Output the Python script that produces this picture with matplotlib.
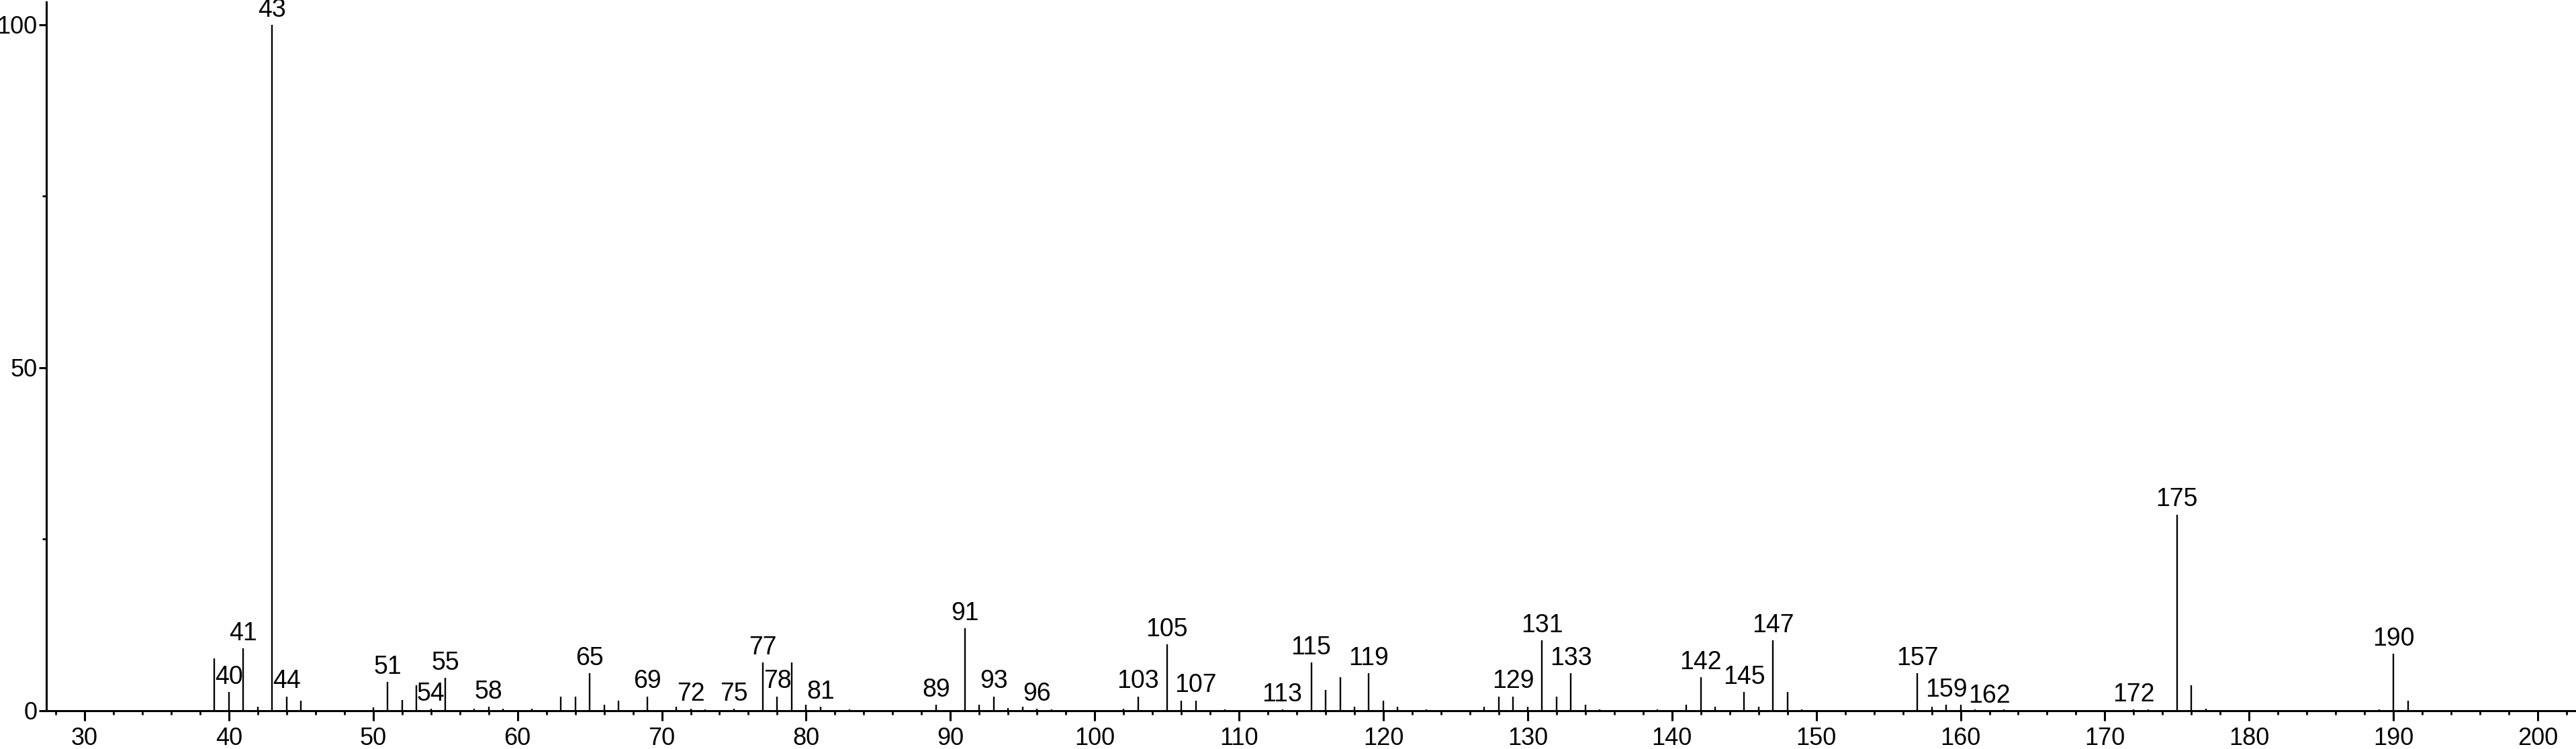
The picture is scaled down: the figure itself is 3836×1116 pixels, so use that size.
import matplotlib
matplotlib.use("Agg")
import matplotlib.pyplot as plt
from matplotlib.ticker import MultipleLocator

plt.rcParams['font.family'] = ['Liberation Sans', 'DejaVu Sans']

# m/z values and relative intensities
mz = [39, 40, 41, 42, 43, 44, 45, 50, 51, 52, 53, 54, 55, 57, 58, 59, 61,
      63, 64, 65, 66, 67, 69, 71, 72, 73, 75, 77, 78, 79, 80, 81, 83,
      89, 91, 92, 93, 94, 95, 96, 97, 102, 103, 105, 106, 107, 109, 113,
      115, 116, 117, 118, 119, 120, 121, 123, 127, 128, 129, 130, 131, 132,
      133, 134, 135, 139, 141, 142, 143, 145, 146, 147, 148, 149,
      157, 158, 159, 160, 161, 163, 172, 173, 175, 176, 177, 189, 190, 191]
intensity = [7.6, 2.7, 9.1, 0.6, 100, 2.1, 1.5, 0.5, 4.2, 1.6, 3.7, 0.3, 4.8, 0.3, 0.6, 0.3, 0.3,
             2.1, 2.1, 5.5, 0.9, 1.5, 2.1, 0.6, 0.3, 0.2, 0.3, 7.0, 2.1, 7.0, 0.9, 0.6, 0.2,
             0.9, 12.0, 0.9, 2.1, 0.4, 0.6, 0.3, 0.2, 0.3, 2.1, 9.7, 1.5, 1.5, 0.2, 0.2,
             7.0, 3.0, 4.9, 0.6, 5.5, 1.5, 0.6, 0.2, 0.6, 2.1, 2.1, 0.6, 10.3, 2.1,
             5.5, 0.9, 0.2, 0.2, 0.9, 4.9, 0.6, 2.7, 0.6, 10.3, 2.7, 0.2,
             5.5, 0.6, 0.9, 0.9, 0.2, 0.2, 0.2, 0.2, 28.6, 3.7, 0.3, 0.2, 8.3, 1.5]

# peaks that carry an m/z label
labelled = [40, 41, 43, 44, 51, 54, 55, 58, 65, 69, 72, 75, 77, 78, 81, 89, 91,
            93, 96, 103, 105, 107, 113, 115, 119, 129, 131, 133, 142, 145, 147,
            157, 159, 162, 172, 175, 190]

fig = plt.figure(figsize=(38.36, 11.16), dpi=100)
ax = fig.add_axes([0.018, 0.0511, 0.9815, 0.9462])

ax.vlines(mz, 0, intensity, color='black', lw=1.7)

peak = dict(zip(mz, intensity))
for m in labelled:
    ax.annotate(str(m), (m, peak.get(m, 0)), xytext=(0, 3), textcoords='offset points',
                ha='center', va='bottom', fontsize=27)

ax.set_xlim(27.35, 202.56)
ax.set_ylim(0, 103.3)
ax.xaxis.set_major_locator(MultipleLocator(10))
ax.xaxis.set_minor_locator(MultipleLocator(2))
ax.set_yticks([0, 50, 100])
ax.yaxis.set_minor_locator(MultipleLocator(25))

for s in ['top', 'right']:
    ax.spines[s].set_visible(False)
for s in ['left', 'bottom']:
    ax.spines[s].set_linewidth(2.2)

ax.tick_params(axis='x', which='major', length=11, width=2.2, pad=6, labelsize=26)
ax.tick_params(axis='x', which='minor', length=4, width=2.0)
ax.tick_params(axis='y', which='major', length=8, width=2.2, pad=2, labelsize=26)
ax.tick_params(axis='y', which='minor', length=4, width=2.0)

fig.savefig('out.png', dpi=100)
